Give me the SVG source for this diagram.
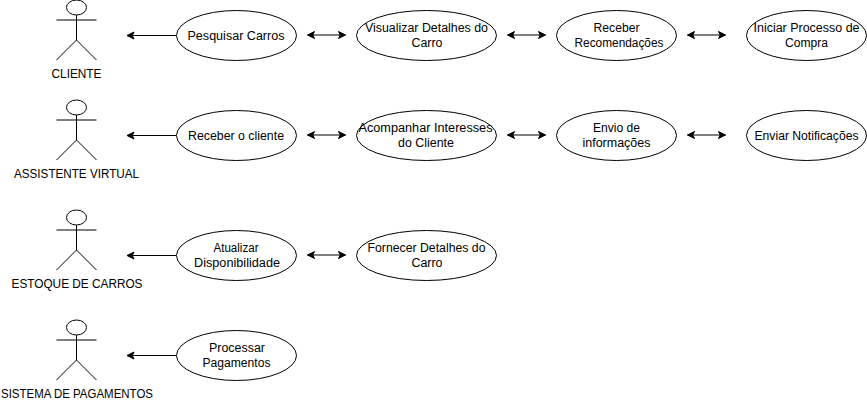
<svg xmlns="http://www.w3.org/2000/svg" width="867" height="402" viewBox="0 0 867 402">
<style>
.s{fill:none;stroke:#000;stroke-width:1}
.e{fill:#fff;stroke:#000;stroke-width:1}
text{font-family:"Liberation Sans",Arial,sans-serif;font-size:12px;fill:#000;text-anchor:middle}
</style>
<defs>
<marker id="ah" markerUnits="userSpaceOnUse" markerWidth="12" markerHeight="12" refX="7" refY="5" orient="auto-start-reverse" overflow="visible"><path d="M7 5L0 1.500L1.750 5L0 8.500Z" fill="#000" stroke="#000"/></marker>
<g id="actor"><ellipse class="s" cx="76.500" cy="7.500" rx="10" ry="7.500"/><path class="s" d="M76.500 15V40M76.500 20H56.500M76.500 20H96.500M76.500 40L56.500 60M76.500 40L96.500 60"/></g>
</defs>
<rect width="867" height="402" fill="#fff"/>
<g id="connectors" class="s">
<path class="s" marker-start="url(#ah)" d="M127 35.500H176"/>
<path class="s" marker-start="url(#ah)" d="M127 135.500H176"/>
<path class="s" marker-start="url(#ah)" d="M127 255.500H176"/>
<path class="s" marker-start="url(#ah)" d="M127 355.500H176"/>
<path class="s" marker-start="url(#ah)" marker-end="url(#ah)" d="M307.500 35H345.500"/>
<path class="s" marker-start="url(#ah)" marker-end="url(#ah)" d="M507.500 35H545.500"/>
<path class="s" marker-start="url(#ah)" marker-end="url(#ah)" d="M687.500 35H725.500"/>
<path class="s" marker-start="url(#ah)" marker-end="url(#ah)" d="M307.500 135H345.500"/>
<path class="s" marker-start="url(#ah)" marker-end="url(#ah)" d="M507.500 135H545.500"/>
<path class="s" marker-start="url(#ah)" marker-end="url(#ah)" d="M687.500 135H725.500"/>
<path class="s" marker-start="url(#ah)" marker-end="url(#ah)" d="M307.500 255H345.500"/>
</g>
<g id="a1"><use href="#actor"/><text x="76.500" y="78" textLength="50" lengthAdjust="spacingAndGlyphs">CLIENTE</text></g>
<g id="a2"><use href="#actor" y="100"/><text x="76.500" y="178" textLength="125" lengthAdjust="spacingAndGlyphs">ASSISTENTE VIRTUAL</text></g>
<g id="a3"><use href="#actor" y="210"/><text x="77" y="288" textLength="131" lengthAdjust="spacingAndGlyphs">ESTOQUE DE CARROS</text></g>
<g id="a4"><use href="#actor" y="320"/><text x="77" y="398" textLength="152" lengthAdjust="spacingAndGlyphs">SISTEMA DE PAGAMENTOS</text></g>
<g id="u1"><ellipse class="e" cx="236.500" cy="35.500" rx="60" ry="25"/><text x="236" y="40" textLength="97" lengthAdjust="spacingAndGlyphs">Pesquisar Carros</text></g>
<g id="u2"><ellipse class="e" cx="426.500" cy="35.500" rx="70" ry="25"/><text x="426.500" y="32" textLength="123" lengthAdjust="spacingAndGlyphs">Visualizar Detalhes do</text><text x="427" y="47" textLength="31" lengthAdjust="spacingAndGlyphs">Carro</text></g>
<g id="u3"><ellipse class="e" cx="616.500" cy="35.500" rx="60" ry="25"/><text x="616.500" y="32" textLength="46" lengthAdjust="spacingAndGlyphs">Receber</text><text x="619" y="47" textLength="89" lengthAdjust="spacingAndGlyphs">Recomendações</text></g>
<g id="u4"><ellipse class="e" cx="806.500" cy="35.500" rx="60" ry="25"/><text x="806.500" y="32" textLength="106" lengthAdjust="spacingAndGlyphs">Iniciar Processo de</text><text x="806.500" y="47" textLength="43" lengthAdjust="spacingAndGlyphs">Compra</text></g>
<g id="u5"><ellipse class="e" cx="236.500" cy="135.500" rx="60" ry="25"/><text x="236" y="140" textLength="96" lengthAdjust="spacingAndGlyphs">Receber o cliente</text></g>
<g id="u6"><ellipse class="e" cx="426.500" cy="135.500" rx="70" ry="25"/><text x="425.500" y="132" textLength="134" lengthAdjust="spacingAndGlyphs">Acompanhar Interesses</text><text x="426" y="147" textLength="56" lengthAdjust="spacingAndGlyphs">do Cliente</text></g>
<g id="u7"><ellipse class="e" cx="616.500" cy="135.500" rx="60" ry="25"/><text x="616.500" y="132" textLength="47" lengthAdjust="spacingAndGlyphs">Envio de</text><text x="616.500" y="147" textLength="68" lengthAdjust="spacingAndGlyphs">informações</text></g>
<g id="u8"><ellipse class="e" cx="806.500" cy="135.500" rx="60" ry="25"/><text x="806.500" y="140" textLength="104" lengthAdjust="spacingAndGlyphs">Enviar Notificações</text></g>
<g id="u9"><ellipse class="e" cx="236.500" cy="255.500" rx="60" ry="25"/><text x="236" y="252" textLength="45" lengthAdjust="spacingAndGlyphs">Atualizar</text><text x="237" y="267" textLength="86" lengthAdjust="spacingAndGlyphs">Disponibilidade</text></g>
<g id="u10"><ellipse class="e" cx="426.500" cy="255.500" rx="70" ry="25"/><text x="426.500" y="252" textLength="118" lengthAdjust="spacingAndGlyphs">Fornecer Detalhes do</text><text x="427" y="267" textLength="31" lengthAdjust="spacingAndGlyphs">Carro</text></g>
<g id="u11"><ellipse class="e" cx="236.500" cy="355.500" rx="60" ry="25"/><text x="237" y="352" textLength="56" lengthAdjust="spacingAndGlyphs">Processar</text><text x="236.500" y="367" textLength="68" lengthAdjust="spacingAndGlyphs">Pagamentos</text></g>
</svg>
